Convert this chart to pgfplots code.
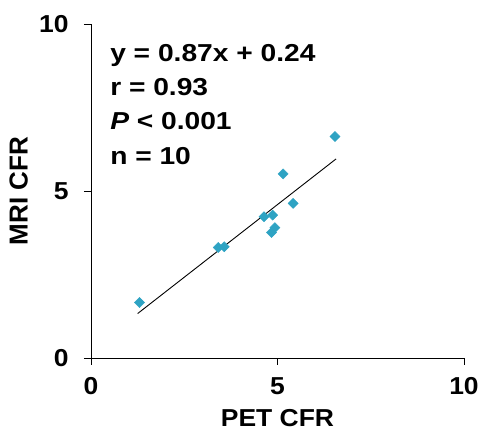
\documentclass[border=0pt]{standalone}
\usepackage{fontspec}
\setmainfont{Liberation Sans}
\usepackage{pgfplots}
\pgfplotsset{compat=1.18}
\definecolor{ptblue}{RGB}{46,163,195}

\begin{document}
\begin{tikzpicture}
\fontsize{24.5}{34}\selectfont
\path[use as bounding box] (-91pt,-77pt) rectangle (389pt,358pt);
\begin{axis}[
    at={(0,0)}, anchor=south west,
    scale only axis,
    width=373pt, height=334pt,
    xmin=0, xmax=10, ymin=0, ymax=10,
    xtick={0,5,10}, ytick={0,5,10},
    axis x line=bottom, axis y line=left,
    axis line style={-, line width=0.9pt},
    tick style={black, line width=0.9pt},
    major tick length=7pt,
    tick align=outside,
    /pgf/number format/assume math mode=true,
    ticklabel style={font=\fontsize{24.5}{30}\selectfont\bfseries, xscale=1.08},
    xticklabel style={yshift=-4pt},
    yticklabel style={xshift=-6pt},
    xlabel={PET CFR}, ylabel={MRI CFR},
    xlabel style={font=\fontsize{24.5}{30}\selectfont\bfseries, xscale=1.08, yshift=2pt},
    ylabel style={font=\fontsize{26}{30}\selectfont\bfseries, yshift=-6pt},
    clip=false,
]
\addplot[only marks, mark=square*, mark size=3.6pt,
    mark options={rotate=45, fill=ptblue, draw=ptblue}]
coordinates {
(1.30,1.66) (3.41,3.31) (3.57,3.33) (4.64,4.23) (4.87,4.28)
(4.84,3.76) (4.93,3.90) (5.15,5.51) (5.42,4.63) (6.54,6.63)
};
\addplot[black, line width=0.9pt, no marks] coordinates {(1.25,1.33) (6.57,5.96)};
\node[anchor=north west, align=left, font=\fontsize{24.5}{34.3}\selectfont\bfseries,
      inner sep=0pt, xscale=1.15]
  at (axis cs:0.51,9.4) {y = 0.87x + 0.24\\r = 0.93\\\textit{P} < 0.001\\n = 10};
\end{axis}
\end{tikzpicture}
\end{document}
